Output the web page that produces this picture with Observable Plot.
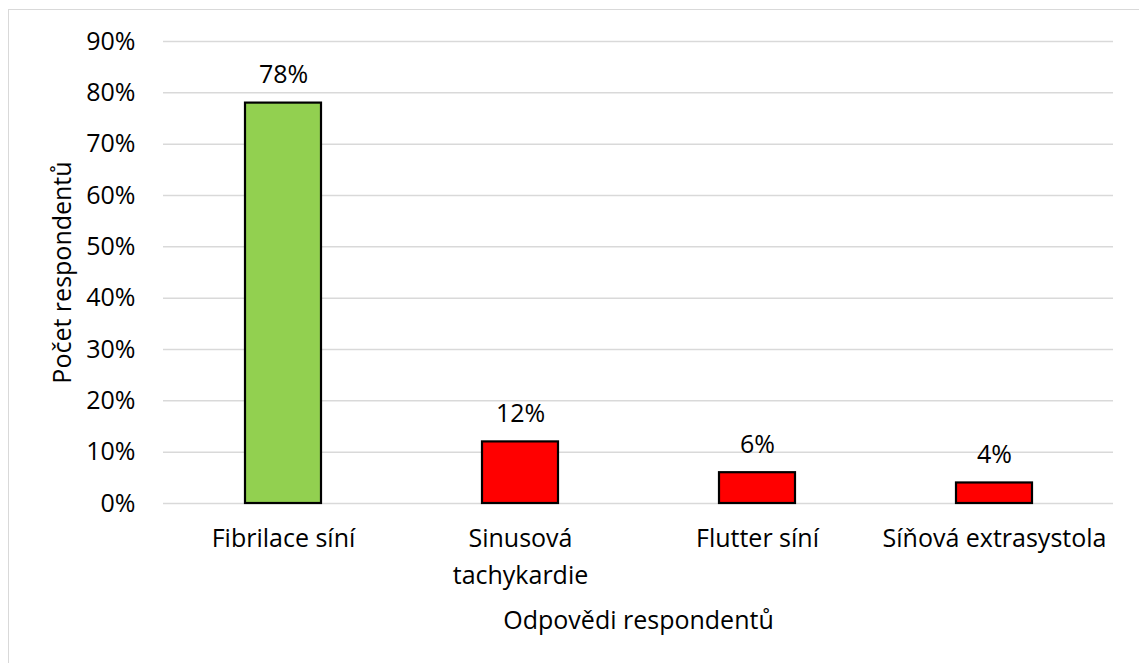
<!DOCTYPE html>
<html>
<head>
<meta charset="utf-8">
<script src="https://cdn.jsdelivr.net/npm/d3@7"></script>
<script src="https://cdn.jsdelivr.net/npm/@observablehq/plot@0.6"></script>
<style>
  html, body { margin: 0; padding: 0; background: #fff; }
  #wrap { position: relative; width: 1139px; height: 663px; overflow: hidden; }
  #border { position: absolute; left: 8px; top: 9px; width: 1200px; height: 700px; border-left: 1.5px solid #d9d9d9; border-top: 1.5px solid #d9d9d9; pointer-events: none; }
  svg { font-family: "Open Sans", sans-serif; }
</style>
</head>
<body>
<div id="wrap"><div id="border"></div></div>
<script>
const categories = ["Fibrilace síní", "Sinusová tachykardie", "Flutter síní", "Síňová extrasystola"];
const tickLabels = ["Fibrilace síní", "Sinusová\ntachykardie", "Flutter síní", "Síňová extrasystola"];
const values = [0.78, 0.12, 0.06, 0.04];
const barColors = ["#92D050", "#FF0000", "#FF0000", "#FF0000"];
const yTicks = [0, 0.1, 0.2, 0.3, 0.4, 0.5, 0.6, 0.7, 0.8, 0.9];
const yTitle = "Počet respondentů";
const xTitle = "Odpovědi respondentů";

const data = categories.map((c, i) => ({cat: c, value: values[i], color: barColors[i]}));

const chart = Plot.plot({
  width: 1139,
  height: 663,
  marginLeft: 163,
  marginRight: 26,
  marginTop: 41,
  marginBottom: 160,
  style: {fontFamily: '"Open Sans", sans-serif', fontSize: "25px", color: "#000", background: "transparent"},
  x: {domain: categories, paddingInner: 0.68, paddingOuter: 0.34, align: 0.5},
  y: {domain: [0, 0.9]},
  marks: [
    Plot.gridY(yTicks, {stroke: "#d9d9d9", strokeOpacity: 1, strokeWidth: 1.5}),
    Plot.axisY(yTicks, {tickSize: 0, tickPadding: 28, tickFormat: d => Math.round(d * 100) + "%", fontSize: 25, fill: "#000", label: null}),
    Plot.axisX({tickSize: 0, tickPadding: 17, tickFormat: (d) => tickLabels[categories.indexOf(d)], fontSize: 25, lineHeight: 1.48, fill: "#000", label: null}),
    Plot.barY(data, {x: "cat", y: "value", fill: "color", stroke: "#000", strokeWidth: 2.2}),
    Plot.text(data, {x: "cat", y: "value", text: d => Math.round(d.value * 100) + "%", dy: -28, fontSize: 25, fill: "#000"}),
    Plot.text([yTitle], {frameAnchor: "left", dx: -101, rotate: -90, fontSize: 25, fill: "#000", textAnchor: "middle"}),
    Plot.text([xTitle], {frameAnchor: "bottom", dy: 125, fontSize: 25, fill: "#000"})
  ]
});
document.getElementById("wrap").prepend(chart);
</script>
</body>
</html>
